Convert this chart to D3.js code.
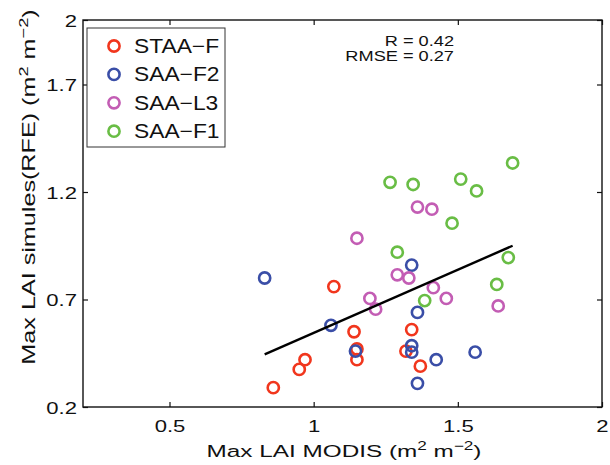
<!DOCTYPE html>
<html>
<head>
<meta charset="utf-8">
<script src="https://cdn.jsdelivr.net/npm/d3@7"></script>
<style>
  body { margin: 0; background: #fff; }
  text { font-family: "Liberation Sans", Arial, sans-serif; fill: #111; }
</style>
</head>
<body>
<script>

// data
var seriesNames = ["STAA\u2212F", "SAA\u2212F2", "SAA\u2212L3", "SAA\u2212F1"];

var staaX = [0.86, 0.95, 0.97, 1.07, 1.14, 1.15, 1.15, 1.32, 1.34, 1.37];
var staaY = [0.29, 0.375, 0.42, 0.76, 0.55, 0.47, 0.42, 0.46, 0.56, 0.39];

var saaF2X = [0.83, 1.06, 1.145, 1.34, 1.36, 1.34, 1.34, 1.56, 1.425, 1.36];
var saaF2Y = [0.80, 0.58, 0.46, 0.86, 0.64, 0.485, 0.455, 0.455, 0.42, 0.31];

var saaL3X = [1.15, 1.195, 1.215, 1.29, 1.33, 1.36, 1.41, 1.415, 1.46, 1.64];
var saaL3Y = [0.985, 0.705, 0.655, 0.815, 0.80, 1.13, 1.12, 0.755, 0.705, 0.67];

var saaF1X = [1.265, 1.345, 1.51, 1.565, 1.69, 1.48, 1.29, 1.675, 1.635, 1.385];
var saaF1Y = [1.245, 1.235, 1.26, 1.205, 1.335, 1.055, 0.92, 0.895, 0.77, 0.695];

var fitX = [0.83, 1.69];
var fitY = [0.445, 0.95];

var xTicks = [0.5, 1, 1.5, 2];
var yTicks = [0.2, 0.7, 1.2, 1.7, 2];
var statLines = ["R = 0.42", "RMSE = 0.27"];

var colors = ["#f1361d", "#3a4ea7", "#c35db4", "#69bd45"];

var width = 610, height = 465;
var margin = {top: 20, right: 8, bottom: 58, left: 83};
var SX = 1.3; // the fonts in the picture are wide

var x = d3.scaleLinear().domain([0.2, 2]).range([margin.left, width - margin.right]);
var y = d3.scaleLinear().domain([0.2, 2]).range([height - margin.bottom, margin.top]);

var svg = d3.select("body").append("svg")
    .attr("width", width)
    .attr("height", height);

svg.append("rect").attr("width", width).attr("height", height).attr("fill", "#fff");

var x0 = x.range()[0], x1 = x.range()[1];
var y0 = y.range()[0], y1 = y.range()[1];

// axes, ticks pointing inward
var gx = svg.append("g")
    .attr("transform", "translate(0," + y0 + ")")
    .call(d3.axisBottom(x).tickValues(xTicks).tickSizeInner(-5).tickSizeOuter(0).tickPadding(13)
      .tickFormat(d3.format("")));
gx.selectAll("text")
    .style("font-size", "17px")
    .attr("transform", "scale(" + SX + ",1)");

var gy = svg.append("g")
    .attr("transform", "translate(" + x0 + ",0)")
    .call(d3.axisLeft(y).tickValues(yTicks).tickSizeInner(-5).tickSizeOuter(0).tickPadding(6)
      .tickFormat(d3.format("")));
gy.selectAll("text")
    .style("font-size", "17px")
    .attr("x", -6 / SX)
    .attr("dy", "0.36em")
    .attr("transform", "scale(" + SX + ",1)");

svg.append("g")
    .attr("transform", "translate(0," + y1 + ")")
    .call(d3.axisTop(x).tickValues(xTicks).tickSizeInner(-5).tickSizeOuter(0).tickFormat(""));

svg.append("g")
    .attr("transform", "translate(" + x1 + ",0)")
    .call(d3.axisRight(y).tickValues(yTicks).tickSizeInner(-5).tickSizeOuter(0).tickFormat(""));

svg.selectAll(".domain").remove();
svg.selectAll(".tick line").attr("stroke", "#111").attr("stroke-width", 1.2);

svg.append("rect")
    .attr("x", x0).attr("y", y1)
    .attr("width", x1 - x0).attr("height", y0 - y1)
    .attr("fill", "none")
    .attr("stroke", "#111")
    .attr("stroke-width", 1.4);

// points
var allSeries = [
  d3.zip(staaX, staaY),
  d3.zip(saaF2X, saaF2Y),
  d3.zip(saaL3X, saaL3Y),
  d3.zip(saaF1X, saaF1Y)
];

allSeries.forEach(function(pts, i) {
  svg.append("g").selectAll("circle")
      .data(pts)
    .enter().append("circle")
      .attr("cx", function(d) { return x(d[0]); })
      .attr("cy", function(d) { return y(d[1]); })
      .attr("r", 5.6)
      .attr("fill", "none")
      .attr("stroke", colors[i])
      .attr("stroke-width", 2.6);
});

// fit line
var line = d3.line()
    .x(function(d) { return x(d[0]); })
    .y(function(d) { return y(d[1]); });

svg.append("path")
    .datum(d3.zip(fitX, fitY))
    .attr("d", line)
    .attr("fill", "none")
    .attr("stroke", "#000")
    .attr("stroke-width", 2.4);

// stats
svg.selectAll(".stat")
    .data(statLines)
  .enter().append("text")
    .attr("class", "stat")
    .attr("transform", function(d, i) { return "translate(454," + (45.5 + i * 15) + ") scale(1.3,1)"; })
    .attr("text-anchor", "end")
    .style("font-size", "14px")
    .text(function(d) { return d; });

// legend
var legend = svg.append("g");
legend.append("rect")
    .attr("x", 87).attr("y", 28)
    .attr("width", 138).attr("height", 119)
    .attr("fill", "#fff")
    .attr("stroke", "#333")
    .attr("stroke-width", 1);

var item = legend.selectAll(".item")
    .data(seriesNames)
  .enter().append("g")
    .attr("class", "item")
    .attr("transform", function(d, i) { return "translate(114," + (46 + i * 28.4) + ")"; });

item.append("circle")
    .attr("r", 5.6)
    .attr("fill", "none")
    .attr("stroke", function(d, i) { return colors[i]; })
    .attr("stroke-width", 2.6);

item.append("text")
    .attr("transform", "translate(20,7) scale(1.14,1)")
    .style("font-size", "20px")
    .text(function(d) { return d; });

// axis titles
var xt = svg.append("text")
    .attr("transform", "translate(344,456.5) scale(1.43,1)")
    .attr("text-anchor", "middle")
    .style("font-size", "17px");
xt.append("tspan").text("Max LAI MODIS (m");
xt.append("tspan").attr("dy", -7).style("font-size", "12px").text("2");
xt.append("tspan").attr("dy", 7).text(" m");
xt.append("tspan").attr("dy", -7).style("font-size", "12px").text("\u22122");
xt.append("tspan").attr("dy", 7).text(")");

var yt = svg.append("text")
    .attr("transform", "translate(35,187) rotate(-90) scale(1.4,1)")
    .attr("text-anchor", "middle")
    .style("font-size", "18px");
yt.append("tspan").text("Max LAI simules(RFE) (m");
yt.append("tspan").attr("dy", -7).style("font-size", "13px").text("2");
yt.append("tspan").attr("dy", 7).text(" m");
yt.append("tspan").attr("dy", -7).style("font-size", "13px").text("\u22122");
yt.append("tspan").attr("dy", 7).text(")");

</script>
</body>
</html>
